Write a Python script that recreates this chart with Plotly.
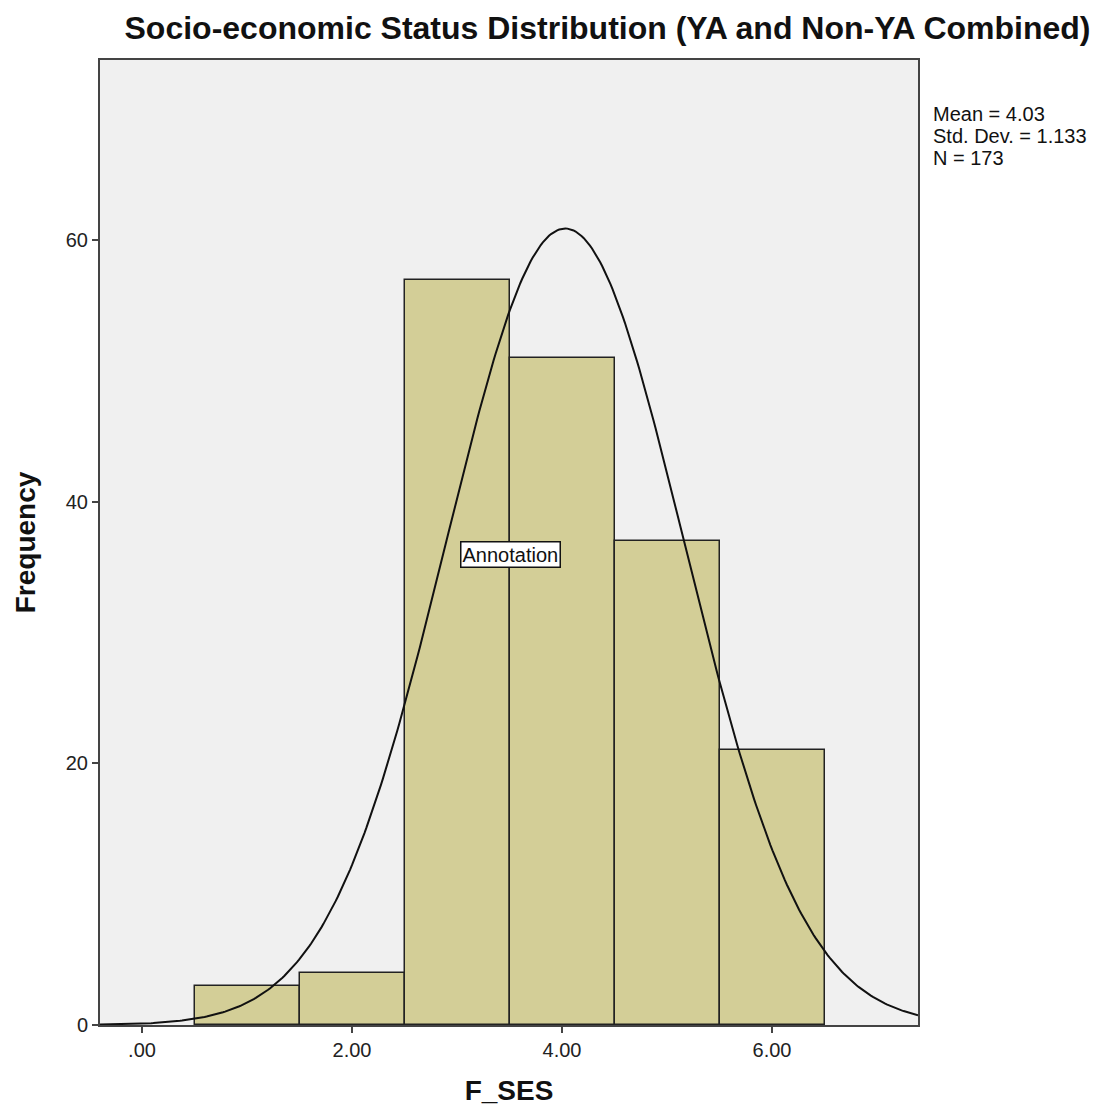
import numpy as np
import plotly.graph_objects as go

# Data
bin_centers = [1.0, 2.0, 3.0, 4.0, 5.0, 6.0]
frequencies = [3, 4, 57, 51, 37, 21]
bin_width = 1.0
mean_val = 4.03
sd_val = 1.133
n_val = 173
stats_lines = ["Mean = 4.03", "Std. Dev. = 1.133", "N = 173"]
x_tick_vals = [0, 2, 4, 6]
x_tick_text = [".00", "2.00", "4.00", "6.00"]
y_tick_vals = [0, 20, 40, 60]

x_range = [-0.4, 7.39]
y_range = [0, 73.8]

# Fitted normal curve from reported statistics
xc = np.linspace(x_range[0], x_range[1], 400)
yc = n_val * bin_width / (sd_val * np.sqrt(2 * np.pi)) * np.exp(-0.5 * ((xc - mean_val) / sd_val) ** 2)

fig = go.Figure()
fig.add_trace(go.Bar(
    x=bin_centers, y=frequencies, width=bin_width,
    marker=dict(color="#D3CE97", line=dict(color="#222222", width=1.5)),
    showlegend=False, hoverinfo="skip",
))
fig.add_trace(go.Scatter(
    x=xc, y=yc, mode="lines", line=dict(color="#111111", width=2),
    showlegend=False, hoverinfo="skip",
))

fig.update_layout(
    width=1107, height=1118,
    margin=dict(l=100, r=189, t=60, b=93),
    paper_bgcolor="white", plot_bgcolor="#F0F0F0",
    font=dict(family="Liberation Sans, Arial, sans-serif", color="#222222", size=20),
    title=dict(text="<b>Socio-economic Status Distribution (YA and Non-YA Combined)</b>",
               x=0.5488, xanchor="center", y=0.9755, yanchor="middle",
               font=dict(size=32, color="#111111")),
    bargap=0,
    xaxis=dict(range=x_range, tickvals=x_tick_vals, ticktext=x_tick_text,
               ticks="outside", ticklen=6, tickwidth=2, tickcolor="#444444",
               showgrid=False, zeroline=False, showline=True, linecolor="#444444", linewidth=2,
               mirror=True,
               title=dict(text="<b>F_SES</b>", font=dict(size=28, color="#111111"), standoff=20),
               tickfont=dict(size=20)),
    yaxis=dict(range=y_range, tickvals=y_tick_vals,
               ticks="outside", ticklen=6, tickwidth=2, tickcolor="#444444",
               showgrid=False, zeroline=False, showline=True, linecolor="#444444", linewidth=2,
               mirror=True,
               title=dict(text="<b>Frequency</b>", font=dict(size=28, color="#111111"), standoff=22),
               tickfont=dict(size=20)),
)

# Stats text lines
plot_top, plot_h = 60, 965
for i, line in enumerate(stats_lines):
    ypix = 114 + 22 * i
    fig.add_annotation(
        xref="paper", yref="paper", x=1.0165, y=1 - (ypix - plot_top) / plot_h,
        xanchor="left", yanchor="middle",
        text=line, showarrow=False, align="left", font=dict(size=20, color="#111111"),
    )

fig.add_annotation(
    x=3.51, y=36.0, text="Annotation", showarrow=False,
    bgcolor="white", bordercolor="#111111", borderwidth=1.5, borderpad=1,
    font=dict(size=20, color="#111111"),
)

fig.write_html("out.html")
